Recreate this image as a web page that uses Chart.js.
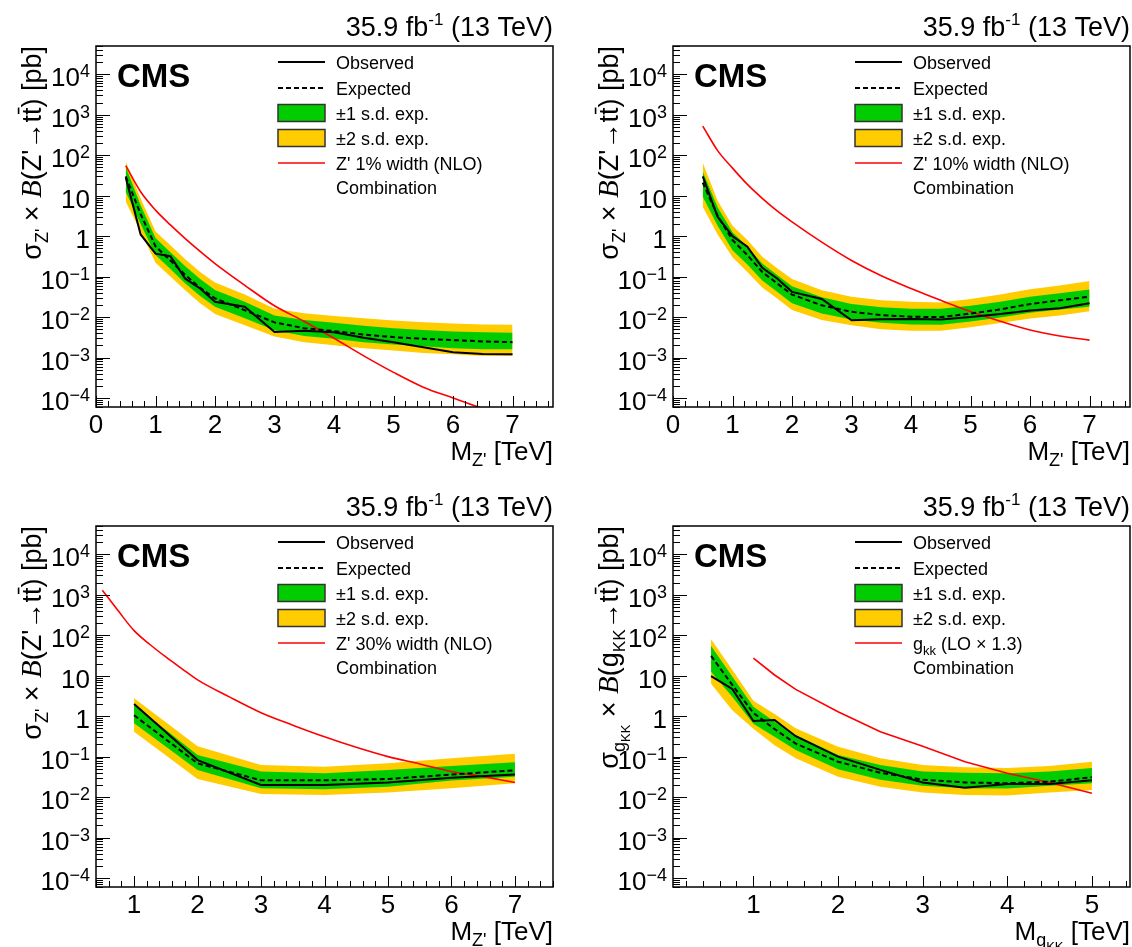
<!DOCTYPE html>
<html>
<head>
<meta charset="utf-8">
<script src="https://cdn.jsdelivr.net/npm/chart.js@4.4.1/dist/chart.umd.min.js"></script>
<style>
  html, body { margin: 0; padding: 0; background: #fff; overflow: hidden; }
  #page { position: relative; width: 1132px; height: 947px; overflow: hidden; background: #fff; }
  canvas { position: absolute; }
</style>
</head>
<body>
<div id="page">
  <canvas id="c1" width="566" height="480" style="left:0;top:0"></canvas>
  <canvas id="c2" width="555" height="480" style="left:577px;top:0"></canvas>
  <canvas id="c3" width="566" height="480" style="left:0;top:480px"></canvas>
  <canvas id="c4" width="555" height="480" style="left:577px;top:480px"></canvas>
</div>
<script>
'use strict';
const SANS = '"Liberation Sans", Arial, Helvetica, sans-serif';
const SERIF = '"Liberation Serif", "Times New Roman", serif';

// Axis tick labels
const yDecades = [-4, -3, -2, -1, 0, 1, 2, 3, 4];
const xTicksZ = [0, 1, 2, 3, 4, 5, 6, 7];
const xTicksZ30 = [1, 2, 3, 4, 5, 6, 7];
const xTicksG = [1, 2, 3, 4, 5];

// Z' mass points (TeV), used by the 1% and 10% width panels
const massZ = [0.5, 0.75, 1.0, 1.25, 1.5, 1.75, 2.0, 2.5, 3.0, 3.5, 4.0, 4.5, 5.0, 5.5, 6.0, 6.5, 7.0];

// Z' 1% width
const obsZ1 = [28, 1.1, 0.37, 0.32, 0.089, 0.051, 0.024, 0.018, 0.0043, 0.0046, 0.0042, 0.0031, 0.0024, 0.0018, 0.00135, 0.00123, 0.0012];
const expZ1 = [30, 3.5, 0.56, 0.25, 0.11, 0.053, 0.029, 0.0148, 0.0074, 0.0053, 0.0045, 0.0037, 0.0032, 0.0029, 0.0027, 0.0025, 0.0024];
const g1loZ1 = [12.6, 2.0, 0.34, 0.155, 0.068, 0.033, 0.018, 0.0093, 0.0047, 0.0034, 0.0029, 0.0024, 0.0021, 0.0019, 0.0017, 0.0016, 0.0016];
const g1hiZ1 = [52, 5.8, 0.9, 0.40, 0.18, 0.087, 0.047, 0.024, 0.011, 0.0085, 0.0072, 0.0061, 0.0053, 0.0048, 0.0044, 0.0042, 0.0041];
const g2loZ1 = [7.1, 1.3, 0.22, 0.10, 0.046, 0.022, 0.012, 0.0063, 0.0033, 0.0024, 0.0020, 0.0017, 0.0015, 0.0013, 0.0012, 0.0011, 0.0011];
const g2hiZ1 = [69, 8.5, 1.3, 0.60, 0.27, 0.13, 0.072, 0.036, 0.016, 0.0125, 0.0107, 0.0093, 0.0082, 0.0075, 0.0069, 0.0066, 0.0065];
const thZ1 = [55, 12.5, 4.4, 1.9, 0.87, 0.42, 0.21, 0.061, 0.019, 0.0078, 0.003, 0.0011, 0.00043, 0.000185, 0.0001, 0.000055, 0.000032];

// Z' 10% width
const obsZ10 = [30, 3.0, 1.0, 0.55, 0.165, 0.09, 0.042, 0.028, 0.0083, 0.0088, 0.009, 0.0087, 0.0100, 0.012, 0.0145, 0.0165, 0.022];
const expZ10 = [21, 3.2, 0.8, 0.34, 0.13, 0.068, 0.036, 0.0195, 0.0135, 0.0112, 0.0102, 0.0100, 0.0122, 0.0155, 0.021, 0.026, 0.032];
const g1loZ10 = [9.4, 1.8, 0.45, 0.2, 0.08, 0.042, 0.022, 0.0122, 0.0087, 0.0072, 0.0066, 0.0065, 0.0078, 0.0098, 0.0128, 0.0155, 0.018];
const g1hiZ10 = [39, 5.2, 1.25, 0.55, 0.21, 0.11, 0.058, 0.031, 0.021, 0.0175, 0.016, 0.016, 0.019, 0.024, 0.032, 0.039, 0.048];
const g2loZ10 = [5.3, 1.1, 0.3, 0.13, 0.054, 0.029, 0.015, 0.0085, 0.0063, 0.0050, 0.0046, 0.0046, 0.0056, 0.0071, 0.0092, 0.011, 0.014];
const g2hiZ10 = [65, 7.5, 1.8, 0.8, 0.31, 0.16, 0.087, 0.046, 0.032, 0.026, 0.024, 0.023, 0.028, 0.036, 0.049, 0.06, 0.078];
const thZ10 = [525, 130, 48, 19, 8.6, 4.2, 2.25, 0.71, 0.25, 0.105, 0.051, 0.026, 0.0137, 0.0079, 0.0048, 0.0034, 0.0027];

// Z' 30% width
const massZ30 = [1, 2, 3, 4, 5, 6, 7];
const obsZ30 = [2.0, 0.082, 0.020, 0.020, 0.023, 0.030, 0.036];
const expZ30 = [1.05, 0.068, 0.026, 0.026, 0.028, 0.036, 0.046];
const g1loZ30 = [0.67, 0.047, 0.0166, 0.0156, 0.018, 0.0256, 0.032];
const g1hiZ30 = [1.9, 0.11, 0.043, 0.039, 0.047, 0.059, 0.073];
const g2loZ30 = [0.41, 0.028, 0.012, 0.0112, 0.0129, 0.0166, 0.022];
const g2hiZ30 = [2.77, 0.18, 0.062, 0.056, 0.069, 0.091, 0.117];
const thMassZ30 = [0.5, 0.75, 1.0, 1.25, 1.5, 1.75, 2.0, 2.5, 3.0, 3.5, 4.0, 4.5, 5.0, 5.5, 6.0, 6.5, 7.0];
const thZ30 = [1300, 400, 130, 59, 29, 15, 7.9, 3.0, 1.22, 0.6, 0.31, 0.17, 0.10, 0.066, 0.043, 0.032, 0.023];

// Kaluza-Klein gluon
const massG = [0.5, 0.75, 1.0, 1.25, 1.5, 2.0, 2.5, 3.0, 3.5, 4.0, 4.5, 5.0];
const obsG = [9.8, 4.7, 0.76, 0.80, 0.32, 0.10, 0.047, 0.023, 0.017, 0.021, 0.021, 0.026];
const expG = [31, 5.9, 1.2, 0.48, 0.21, 0.075, 0.040, 0.027, 0.023, 0.022, 0.024, 0.031];
const g1loG = [12.6, 3.0, 0.65, 0.31, 0.146, 0.049, 0.027, 0.019, 0.0166, 0.0162, 0.019, 0.022];
const g1hiG = [54, 9.5, 1.7, 0.73, 0.34, 0.11, 0.062, 0.043, 0.040, 0.039, 0.043, 0.052];
const g2loG = [6.3, 1.4, 0.49, 0.19, 0.091, 0.032, 0.018, 0.0129, 0.0112, 0.011, 0.0129, 0.015];
const g2hiG = [79, 14, 2.4, 1.13, 0.50, 0.176, 0.091, 0.062, 0.055, 0.052, 0.059, 0.075];
const thMassG = [1.0, 1.25, 1.5, 2.0, 2.5, 3.0, 3.5, 4.0, 4.5, 5.0];
const thG = [27, 10.4, 4.6, 1.29, 0.41, 0.18, 0.075, 0.039, 0.023, 0.0124];

const GREEN = '#00cc00';
const YELLOW = '#ffcc00';
const RED = '#ff0000';

function pts(xs, ys) {
    return xs.map((x, i) => ({x: x, y: ys[i]}));
}

// Text pieces with sizes / baseline shifts (sub- and superscripts)
function fontOf(p) {
    return (p.it ? 'italic ' : '') + (p.bold ? 'bold ' : '') + (p.s || 26) + 'px ' + (p.ff || SANS);
}

function drawRich(ctx, parts, x, y, align) {
    let w = 0;
    parts.forEach(p => { ctx.font = fontOf(p); p.w = ctx.measureText(p.t).width; w += p.w; });
    let cx = align === 'right' ? x - w : x;
    ctx.textAlign = 'left';
    ctx.textBaseline = 'alphabetic';
    parts.forEach(p => {
        ctx.font = fontOf(p);
        ctx.fillText(p.t, cx, y + (p.dy || 0));
        if (p.bar) {
            const s = p.s || 26;
            ctx.fillRect(cx + 1, y + (p.dy || 0) - s * 0.86, p.w - 1, 1.6);
        }
        cx += p.w;
    });
    return w;
}

const titleParts = [{t: '35.9 fb', s: 27}, {t: '-1', s: 17, dy: -11}, {t: ' (13 TeV)', s: 27}];
const yLabelZ = [{t: 'σ', s: 27}, {t: "Z'", s: 18, dy: 7}, {t: ' × ', s: 27}, {t: 'B', ff: SERIF, it: true, s: 29},
    {t: "(Z'", s: 27}, {t: '→', s: 27}, {t: 't', s: 27}, {t: 't', s: 27, bar: true}, {t: ') [pb]', s: 27}];
const yLabelG = [{t: 'σ', s: 27}, {t: 'g', s: 18, dy: 7}, {t: 'KK', s: 13, dy: 12}, {t: ' × ', s: 27},
    {t: 'B', ff: SERIF, it: true, s: 29}, {t: '(g', s: 27}, {t: 'KK', s: 17, dy: 7}, {t: '→', s: 27},
    {t: 't', s: 27}, {t: 't', s: 27, bar: true}, {t: ') [pb]', s: 27}];
const xLabelZ = [{t: 'M'}, {t: "Z'", s: 18, dy: 6}, {t: ' [TeV]'}];
const xLabelG = [{t: 'M'}, {t: 'g', s: 18, dy: 6}, {t: 'KK', s: 13, dy: 11}, {t: ' [TeV]'}];

function makePlugin(panel) {
    return {
        id: 'rootStyle',
        afterDatasetsDraw(chart) {
            const ctx = chart.ctx;
            const a = chart.chartArea;
            const xs = chart.scales.x;
            const ys = chart.scales.y;
            ctx.save();
            ctx.fillStyle = '#000';
            ctx.strokeStyle = '#000';

            // inward tick marks
            ctx.lineWidth = 1;
            ctx.beginPath();
            for (let d = -5; d <= 5; d++) {
                for (let k = 1; k <= 9; k++) {
                    const v = k * Math.pow(10, d);
                    if (v < ys.min || v > ys.max) continue;
                    const py = Math.round(ys.getPixelForValue(v)) + 0.5;
                    ctx.moveTo(a.left, py);
                    ctx.lineTo(a.left + (k === 1 ? 14 : 7), py);
                }
            }
            const first = Math.ceil(xs.min * 5 - 1e-6);
            const last = Math.floor(xs.max * 5 + 1e-6);
            for (let i = first; i <= last; i++) {
                const px = Math.round(xs.getPixelForValue(i / 5)) + 0.5;
                ctx.moveTo(px, a.bottom);
                ctx.lineTo(px, a.bottom - (i % 5 === 0 ? 11 : 6));
            }
            ctx.stroke();

            // frame
            ctx.lineWidth = 1.5;
            ctx.strokeRect(a.left, a.top, a.right - a.left, a.bottom - a.top);

            // y tick labels
            yDecades.forEach(d => {
                const py = ys.getPixelForValue(Math.pow(10, d));
                let parts;
                if (d === 0) parts = [{t: '1'}];
                else if (d === 1) parts = [{t: '10'}];
                else parts = [{t: '10'}, {t: (d < 0 ? '−' : '') + Math.abs(d), s: 18, dy: -9}];
                drawRich(ctx, parts, a.left - 6, py + 12, 'right');
            });

            // x tick labels
            ctx.font = '26px ' + SANS;
            ctx.textAlign = 'center';
            panel.xTicks.forEach(v => {
                ctx.fillText(String(v), xs.getPixelForValue(v), a.bottom + 26);
            });

            // axis titles
            drawRich(ctx, panel.xLabel, a.right, a.bottom + 53, 'right');
            ctx.save();
            ctx.translate(a.left - 55, a.top);
            ctx.rotate(-Math.PI / 2);
            drawRich(ctx, panel.yLabel, 0, 0, 'right');
            ctx.restore();

            // title and CMS label
            drawRich(ctx, titleParts, a.right, a.top - 10, 'right');
            drawRich(ctx, [{t: 'CMS', bold: true, s: 33}], a.left + 21, a.top + 41, 'left');

            // legend
            const ds = chart.data.datasets;
            const x0 = a.left + 182, x1 = a.left + 229, tx = a.left + 240;
            const rows = [16, 42, 67, 92, 117, 141].map(r => a.top + r);
            ctx.lineWidth = ds[6].borderWidth;
            ctx.setLineDash([]);
            ctx.beginPath(); ctx.moveTo(x0, rows[0]); ctx.lineTo(x1, rows[0]); ctx.stroke();
            ctx.setLineDash(ds[5].borderDash);
            ctx.beginPath(); ctx.moveTo(x0, rows[1]); ctx.lineTo(x1, rows[1]); ctx.stroke();
            ctx.setLineDash([]);
            [[ds[3].backgroundColor, rows[2]], [ds[1].backgroundColor, rows[3]]].forEach(b => {
                ctx.fillStyle = b[0];
                ctx.fillRect(x0, b[1] - 8.5, x1 - x0, 17);
                ctx.strokeStyle = '#333';
                ctx.lineWidth = 1.5;
                ctx.strokeRect(x0, b[1] - 8.5, x1 - x0, 17);
            });
            ctx.strokeStyle = ds[4].borderColor;
            ctx.lineWidth = ds[4].borderWidth;
            ctx.beginPath(); ctx.moveTo(x0, rows[4]); ctx.lineTo(x1, rows[4]); ctx.stroke();
            ctx.fillStyle = '#000';
            const texts = [[{t: 'Observed'}], [{t: 'Expected'}], [{t: '±1 s.d. exp.'}], [{t: '±2 s.d. exp.'}],
                panel.thLabel, [{t: 'Combination'}]];
            texts.forEach((parts, i) => {
                drawRich(ctx, parts.map(p => Object.assign({s: 18}, p)), tx, rows[i] + 6.5, 'left');
            });
            ctx.restore();
        }
    };
}

function makeChart(id, panel) {
    const canvas = document.getElementById(id);
    const lineBase = {pointRadius: 0, fill: false, tension: 0};
    const band = (xs, ys, fill, color, order) => Object.assign({}, lineBase, {
        data: pts(xs, ys), borderWidth: 0, borderColor: 'rgba(0,0,0,0)',
        backgroundColor: color, fill: fill, order: order
    });
    const datasets = [
        band(panel.mass, panel.g2lo, false, YELLOW, 6),
        band(panel.mass, panel.g2hi, '-1', YELLOW, 5),
        band(panel.mass, panel.g1lo, false, GREEN, 4),
        band(panel.mass, panel.g1hi, '-1', GREEN, 3),
        Object.assign({}, lineBase, {
            data: pts(panel.thMass, panel.th), borderColor: RED, borderWidth: 1.6, order: 2,
            cubicInterpolationMode: panel.smooth ? 'monotone' : 'default'
        }),
        Object.assign({}, lineBase, {
            data: pts(panel.mass, panel.exp), borderColor: '#000', borderWidth: 2,
            borderDash: [5, 3], order: 1
        }),
        Object.assign({}, lineBase, {
            data: pts(panel.mass, panel.obs), borderColor: '#000', borderWidth: 2, order: 0
        })
    ];
    return new Chart(canvas, {
        type: 'line',
        data: {datasets: datasets},
        options: {
            responsive: false,
            animation: false,
            devicePixelRatio: 1,
            layout: {padding: {left: 96, top: 46, right: canvas.width - 553, bottom: 480 - 407}},
            plugins: {legend: {display: false}, tooltip: {enabled: false}},
            scales: {
                x: {type: 'linear', min: panel.xMin, max: panel.xMax, display: false},
                y: {type: 'logarithmic', min: 6e-5, max: 5e4, display: false}
            }
        },
        plugins: [makePlugin(panel)]
    });
}

makeChart('c1', {
    xMin: 0, xMax: 7.68, xTicks: xTicksZ, mass: massZ, obs: obsZ1, exp: expZ1,
    g1lo: g1loZ1, g1hi: g1hiZ1, g2lo: g2loZ1, g2hi: g2hiZ1, thMass: massZ, th: thZ1, smooth: true,
    thLabel: [{t: "Z' 1% width (NLO)"}], yLabel: yLabelZ, xLabel: xLabelZ
});
makeChart('c2', {
    xMin: 0, xMax: 7.68, xTicks: xTicksZ, mass: massZ, obs: obsZ10, exp: expZ10,
    g1lo: g1loZ10, g1hi: g1hiZ10, g2lo: g2loZ10, g2hi: g2hiZ10, thMass: massZ, th: thZ10, smooth: true,
    thLabel: [{t: "Z' 10% width (NLO)"}], yLabel: yLabelZ, xLabel: xLabelZ
});
makeChart('c3', {
    xMin: 0.4, xMax: 7.6, xTicks: xTicksZ30, mass: massZ30, obs: obsZ30, exp: expZ30,
    g1lo: g1loZ30, g1hi: g1hiZ30, g2lo: g2loZ30, g2hi: g2hiZ30, thMass: thMassZ30, th: thZ30, smooth: true,
    thLabel: [{t: "Z' 30% width (NLO)"}], yLabel: yLabelZ, xLabel: xLabelZ
});
makeChart('c4', {
    xMin: 0.05, xMax: 5.45, xTicks: xTicksG, mass: massG, obs: obsG, exp: expG,
    g1lo: g1loG, g1hi: g1hiG, g2lo: g2loG, g2hi: g2hiG, thMass: thMassG, th: thG, smooth: false,
    thLabel: [{t: 'g'}, {t: 'kk', s: 13, dy: 5}, {t: ' (LO × 1.3)'}], yLabel: yLabelG, xLabel: xLabelG
});
</script>
</body>
</html>
